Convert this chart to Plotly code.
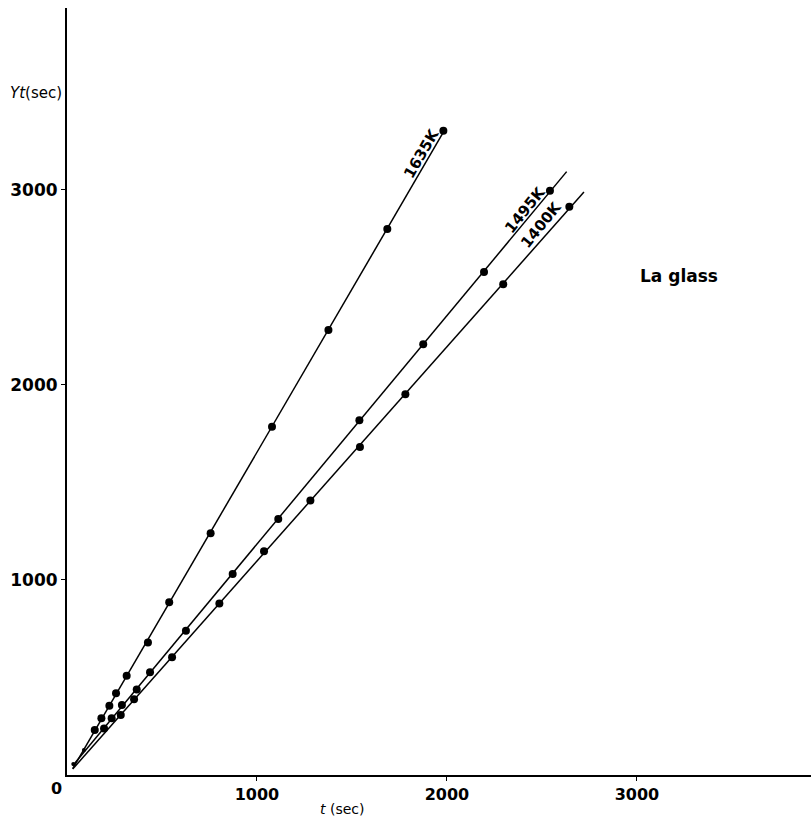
import numpy as np
import plotly.graph_objects as go

# ---- data ----
t_1635 = [146, 181, 223, 258, 314, 426, 538, 756, 1079, 1376, 1686, 1981]
y_1635 = [231, 291, 355, 419, 509, 680, 886, 1239, 1786, 2282, 2800, 3304]

t_1495 = [195, 235, 289, 367, 437, 626, 872, 1112, 1539, 1875, 2195, 2542]
y_1495 = [239, 291, 359, 439, 527, 740, 1031, 1313, 1819, 2209, 2579, 2996]

t_1400 = [283, 353, 553, 802, 1037, 1281, 1542, 1781, 2296, 2644]
y_1400 = [308, 388, 604, 880, 1147, 1407, 1682, 1952, 2516, 2914]

t_early = [33, 89]
y_early = [56, 128]

# extent of fitted straight lines (t start, t end)
fit_range_1635 = [30, 1981]
fit_range_1495 = [30, 2630]
fit_range_1400 = [30, 2721]

labels = ["1635K", "1495K", "1400K"]
label_pos_t = [1868, 2411, 2495]
label_pos_y = [3190, 2897, 2821]
label_angle = [-60, -51, -51]

x_ticks = [1000, 2000, 3000]
y_ticks = [1000, 2000, 3000]

FONT = "DejaVu Sans"

fig = go.Figure()

for t, y, rng in [(t_1635, y_1635, fit_range_1635),
                  (t_1495, y_1495, fit_range_1495),
                  (t_1400, y_1400, fit_range_1400)]:
    k, b = np.polyfit(t, y, 1)
    xs = np.array(rng, dtype=float)
    fig.add_trace(go.Scatter(x=xs, y=k * xs + b, mode="lines",
                             line=dict(color="black", width=1.5),
                             showlegend=False, hoverinfo="skip"))
    fig.add_trace(go.Scatter(x=t, y=y, mode="markers",
                             marker=dict(color="black", size=8),
                             showlegend=False))

fig.add_trace(go.Scatter(x=t_early, y=y_early, mode="markers",
                         marker=dict(color="black", size=4),
                         showlegend=False))

for txt, xt, yt, ang in zip(labels, label_pos_t, label_pos_y, label_angle):
    fig.add_annotation(x=xt, y=yt, xref="x", yref="y", text="<b>%s</b>" % txt,
                       textangle=ang, showarrow=False,
                       font=dict(family=FONT, size=15, color="black"))

fig.add_annotation(x=3221, y=2559, xref="x", yref="y", text="<b>La glass</b>",
                   showarrow=False, font=dict(family=FONT, size=17, color="black"))

fig.add_annotation(x=0, y=0, xref="x", yref="y", text="<b>0</b>",
                   xanchor="right", yanchor="top", xshift=-3, yshift=-2,
                   showarrow=False, font=dict(family=FONT, size=16, color="black"))

fig.add_annotation(x=0, y=3497, xref="paper", yref="y", text="<i>Yt</i>(sec)",
                   xanchor="right", yanchor="middle", xshift=-3,
                   showarrow=False, font=dict(family=FONT, size=15, color="black"))

fig.add_annotation(x=1447, y=0, xref="x", yref="paper", text="<i>t</i> (sec)",
                   xanchor="center", yanchor="top", yshift=-24,
                   showarrow=False, font=dict(family=FONT, size=14, color="black"))

fig.update_layout(
    width=811, height=818,
    margin=dict(l=67, r=0, t=8, b=43),
    paper_bgcolor="white", plot_bgcolor="white",
    xaxis=dict(range=[0, 3916], tickvals=x_ticks, ticktext=[str(v) for v in x_ticks],
               showgrid=False, zeroline=False, showline=True, linecolor="black",
               linewidth=2, ticks="outside", ticklen=4, tickcolor="black",
               tickfont=dict(family=FONT, size=16, color="black", weight="bold")),
    yaxis=dict(range=[0, 3933], tickvals=y_ticks, ticktext=[str(v) for v in y_ticks],
               showgrid=False, zeroline=False, showline=True, linecolor="black",
               linewidth=2, ticks="outside", ticklen=4, tickcolor="black",
               tickfont=dict(family=FONT, size=17, color="black", weight="bold")),
)

fig.write_html("out.html")
